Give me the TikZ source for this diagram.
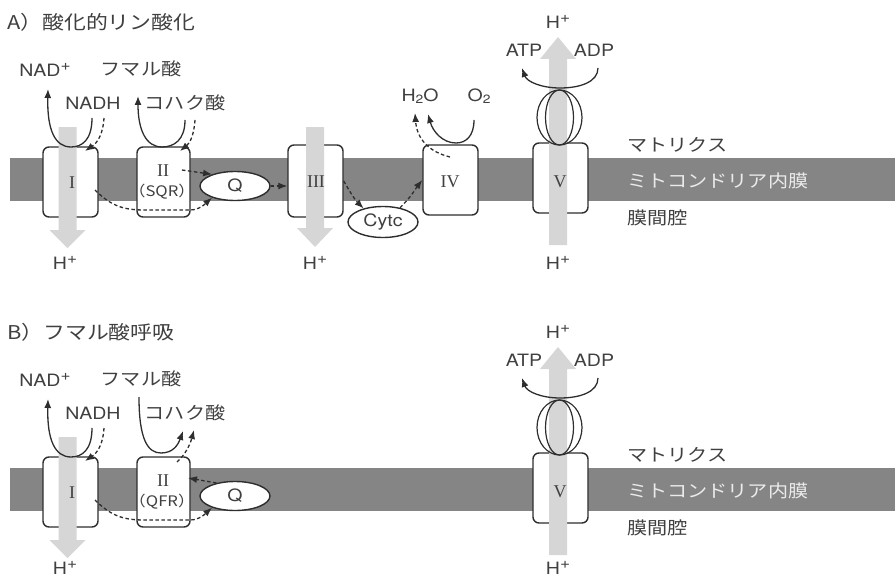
\documentclass[tikz,border=0pt]{standalone}
\usepackage{fontspec}
\setmainfont[FakeStretch=1.15]{TeX Gyre Heros}
\newfontfamily\jpf[FakeStretch=1.15]{Noto Sans CJK JP}
\newfontfamily\romf{Liberation Serif}
\usetikzlibrary{arrows.meta,shapes.geometric,calc}
\definecolor{txt}{HTML}{404040}
\definecolor{lc}{HTML}{2E2E2E}
\definecolor{memb}{HTML}{858585}
\definecolor{harrow}{HTML}{D6D6D6}
\newcommand\sptxt[1]{\raisebox{0.38em}{\fontsize{15}{15}\selectfont #1}}
\newcommand\sbtxt[1]{\raisebox{-0.15em}{\fontsize{12}{12}\selectfont #1}}
\tikzset{
 box/.style={draw=lc, line width=1.4pt, fill=white, rounded corners=6pt, inner sep=0pt},
 ell/.style={ellipse, draw=lc, line width=1.4pt, fill=white, inner sep=0pt, text=txt, font=\fontsize{17}{17}\selectfont},
 lab/.style={text=txt, inner sep=0pt, font=\fontsize{17}{17}\selectfont},
 jlab/.style={text=txt, inner sep=0pt, font=\jpf\fontsize{17.5}{17.5}\selectfont},
 rn/.style={text=txt, inner sep=0pt, font=\romf\fontsize{18}{18}\selectfont},
 conn/.style={draw=lc, line width=1.3pt, -{Latex[length=9pt,width=7pt]}},
 dconn/.style={conn, dash pattern=on 3.5pt off 2.5pt},
 hp/.style={harrow},
}
\newcommand\panelbase[1]{%
 \fill[memb] (10,158) rectangle (895,201);
 \node[box,minimum width=55pt,minimum height=70pt] (#1I) at (70.5,182) {};
 \node[box,minimum width=53pt,minimum height=70pt] (#1II) at (163.5,182) {};
 \node[box,minimum width=55pt,minimum height=70pt] (#1V) at (560.5,178) {};
 \node[ell,minimum width=70pt,minimum height=29pt] (#1Q) at (235,186) {Q};
 % proton arrows
 \fill[hp] (58.5,127) -- (76.5,127) -- (76.5,230) -- (85.5,230) -- (67.5,248) -- (49.5,230) -- (58.5,230) -- cycle;
 \fill[hp] (549,245) -- (567,245) -- (567,59) -- (576,59) -- (558,37) -- (540,59) -- (549,59) -- cycle;
 % F1 part
 \draw[lc,line width=1.2pt] (559.5,117.5) ellipse [x radius=22.5, y radius=27.5];
 \draw[lc,line width=1.2pt] (559.5,117.5) ellipse [x radius=14, y radius=27.5];
 % box labels
 \node[rn] (#1Il) at (72,183) {I};
 \node[rn] (#1IIl) at (163,171) {II};
 \node[rn] (#1Vl) at (560,182) {V};
 % texts
 \node[lab] (#1NAD) at (45,70) {NAD\sptxt{+}};
 \node[lab] (#1NADH) at (93,103) {NADH};
 \node[jlab] (#1fum) at (141,69) {フマル酸};
 \node[jlab] (#1suc) at (185,103) {コハク酸};
 \node[lab] (#1HVt) at (558,22) {H\sptxt{+}};
 \node[lab] (#1ATP) at (524,50) {ATP};
 \node[lab] (#1ADP) at (594,50) {ADP};
 \node[jlab,anchor=west] (#1mat) at (627,145) {マトリクス};
 \node[jlab,anchor=west,text=white!92!black] (#1mem) at (627,181) {ミトコンドリア内膜};
 \node[jlab,anchor=west] (#1ims) at (627,218) {膜間腔};
 % NADH reaction
 \draw[conn] (92,118) .. controls (92,140) and (82,147) .. (71,147) .. controls (55,147) and (47,130) .. (48,89);
 \draw[dconn] (104,118) .. controls (103,135) and (97,143) .. (85,151);
 % I -> Q
 \draw[dconn] (95,190) .. controls (112,207) and (125,210) .. (145,210) -- (190,210) .. controls (200,210) and (206,203) .. (#1Q.207);
 % ATP synthase
 \draw[conn] (598,68) .. controls (598,82) and (580,88) .. (560,88) .. controls (542,88) and (527,82) .. (522,68);
}
\begin{document}
\begin{tikzpicture}[x=1pt,y=-1pt]
\useasboundingbox (0,0) rectangle (895,578);
% ---------- Panel A ----------
\node[jlab,anchor=west,font=\jpf\fontsize{19}{19}\selectfont] (atitle) at (7,22) {A）酸化的リン酸化};
\panelbase{a}
\node[box,minimum width=55pt,minimum height=72pt] (aIII) at (315.5,181) {};
\node[box,minimum width=55pt,minimum height=70pt] (aIV) at (450.5,180) {};
\fill[hp] (306,127) -- (324,127) -- (324,228) -- (333,228) -- (315,247) -- (297,228) -- (306,228) -- cycle;
\node[ell,minimum width=70pt,minimum height=31pt] (aCytc) at (383,222) {Cytc};
\node[rn] (aIIIl) at (316,182) {III};
\node[rn] (aIVl) at (450,182) {IV};
\node[jlab,font=\jpf\fontsize{14.5}{14.5}\selectfont] (aSQR) at (162,192) {（SQR）};
\node[lab] (aHI) at (65,263) {H\sptxt{+}};
\node[lab] (aHIII) at (315,263) {H\sptxt{+}};
\node[lab] (aHVb) at (558,263) {H\sptxt{+}};
\node[lab] (aH2O) at (420,96) {H\sbtxt{2}O};
\node[lab] (aO2) at (479,96) {O\sbtxt{2}};
% succinate -> fumarate
\draw[conn] (185,120) .. controls (185,140) and (174,147) .. (162,147) .. controls (146,147) and (138,130) .. (138,96);
\draw[dconn] (195,120) .. controls (194,135) and (190,143) .. (180,151);
\draw[dconn] (182,170) -- (aQ.153);
\draw[dconn] (aQ.east) -- (aQ.east -| aIII.west);
\draw[dconn] (aIII.east) .. controls (350,192) and (355,200) .. (aCytc.145);
\draw[dconn] (aCytc.40) .. controls (412,196) and (416,188) .. (aIV.west);
\draw[conn] (474,120) .. controls (474,136) and (466,143) .. (456,143) .. controls (443,143) and (433,132) .. (428,114);
\draw[dconn] (450,157) .. controls (430,152) and (417,140) .. (415,113);
% ---------- Panel B ----------
\node[jlab,anchor=west,font=\jpf\fontsize{19}{19}\selectfont] (btitle) at (7,332) {B）フマル酸呼吸};
\begin{scope}[yshift=-310pt]
\panelbase{b}
\node[jlab,font=\jpf\fontsize{14.5}{14.5}\selectfont] (bQFR) at (162,192) {（QFR）};
\node[lab] (bHI) at (65,258) {H\sptxt{+}};
\node[lab] (bHVb) at (558,258) {H\sptxt{+}};
\draw[conn] (139,87) .. controls (139,130) and (148,143) .. (161,143) .. controls (173,143) and (178,135) .. (183,121);
\draw[dconn] (177,152) .. controls (185,145) and (190,135) .. (194,120);
\draw[dconn] (bQ.145) -- (188,168);
\end{scope}
\end{tikzpicture}
\end{document}
